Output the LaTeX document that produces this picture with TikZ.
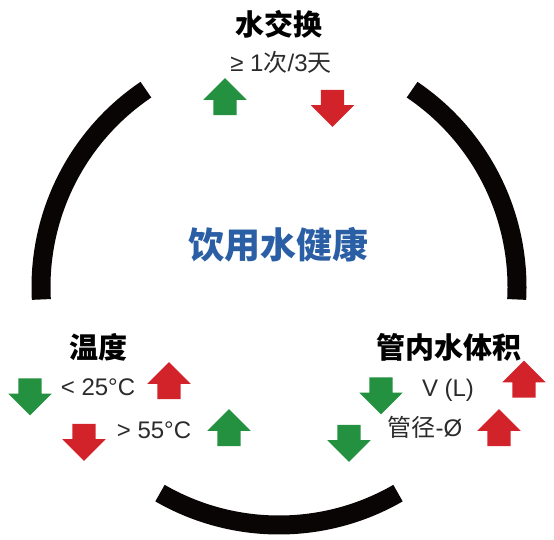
\documentclass[tikz,border=0pt]{standalone}
\usepackage{fontspec}
\setmainfont{Liberation Sans}
\newfontfamily\cjk{Noto Sans CJK SC}
\usepackage{tikz}
\usetikzlibrary{shapes.arrows}

\definecolor{ringblack}{HTML}{0A0505}
\definecolor{arrowgreen}{HTML}{23913F}
\definecolor{arrowred}{HTML}{D2232A}
\definecolor{titleblue}{HTML}{2A5FA5}
\definecolor{labelgray}{HTML}{2B2B2B}

\begin{document}
\begin{tikzpicture}[
        x=1pt, y=1pt,
        ring/.style={line width=19pt, draw=ringblack},
        title/.style={font=\fontsize{29}{30}\selectfont\cjk\bfseries, text=black, inner sep=0pt},
        label/.style={font=\fontsize{24}{25}\selectfont, text=labelgray, inner sep=0pt},
        centre/.style={font=\fontsize{36}{38}\selectfont\cjk\bfseries, text=titleblue, inner sep=0pt},
        arrowbox/.style={single arrow, draw=none, inner xsep=0pt, inner ysep=11.5pt,
            minimum height=37pt, single arrow head extend=10pt, single arrow head indent=0pt},
        gup/.style={arrowbox, fill=arrowgreen, rotate=90},
        gdown/.style={arrowbox, fill=arrowgreen, rotate=-90},
        rup/.style={arrowbox, fill=arrowred, rotate=90},
        rdown/.style={arrowbox, fill=arrowred, rotate=-90}
    ]
    \useasboundingbox (0,0) rectangle (554,539);

    % Ring
    \coordinate (mid) at (279,252);
    \draw[ring] (mid) ++(124:238) arc[start angle=124, end angle=183, radius=238];
    \draw[ring] (mid) ++(-3:238) arc[start angle=-3, end angle=56, radius=238];
    \draw[ring] (mid) ++(240:238) arc[start angle=240, end angle=300, radius=238];

    % Centre
    \node[centre] (health) at (278,294) {饮用水健康};

    % Water exchange
    \node[title] (exchange) at (279,515) {水交换};
    \node[label] (rate) at (281,477) {≥ 1{\cjk 次}/3{\cjk 天}};
    \node[gup] (exup) at (225,436.5) {};
    \node[rdown] (exdown) at (332.5,436.5) {};

    % Temperature
    \node[title] (temp) at (98,191.5) {温度};
    \node[label] (low) at (98,151.5) {< 25°C};
    \node[label] (high) at (154,109) {> 55°C};
    \node[gdown] (lowdown) at (30,148) {};
    \node[rup] (lowup) at (169,152.5) {};
    \node[rdown] (highdown) at (84,102.5) {};
    \node[gup] (highup) at (229,105.5) {};

    % Volume in pipe
    \node[title] (volume) at (449,191.5) {管内水体积};
    \node[label] (litre) at (448,149) {V (L)};
    \node[label] (diam) at (425,111.5) {{\cjk 管径}-Ø};
    \node[gdown] (litredown) at (381,149) {};
    \node[rup] (litreup) at (524,154) {};
    \node[gdown] (diamdown) at (349,101.5) {};
    \node[rup] (diamup) at (499,105.5) {};

\end{tikzpicture}
\end{document}
